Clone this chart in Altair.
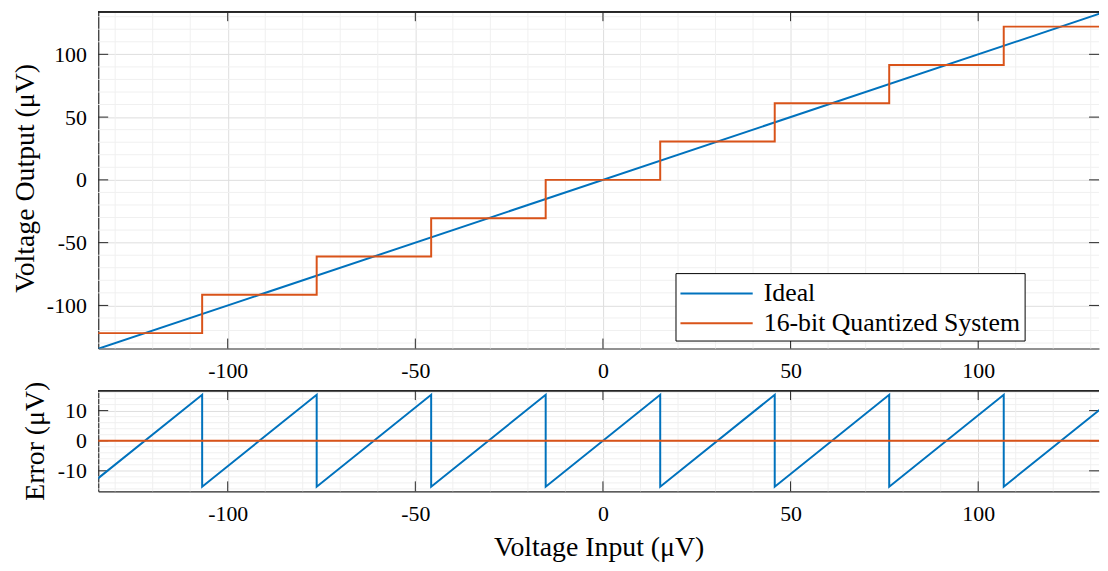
import altair as alt
import pandas as pd

# ---------------- data ----------------
series_names = ["Ideal", "16-bit Quantized System"]
series_colors = ["#0072BD", "#D95319"]

ideal_x = [-135.0, 135.0]
ideal_y = [-135.0, 135.0]

quant_x = [-135.0, -106.81, -76.29, -45.78, -15.26, 15.26, 45.78, 76.29, 106.81, 135.0]
quant_y = [-122.07, -91.55, -61.04, -30.52, 0.0, 30.52, 61.04, 91.55, 122.07, 122.07]

err_x = [-135.0, -106.81, -106.81, -76.29, -76.29, -45.78, -45.78, -15.26, -15.26,
         15.26, 15.26, 45.78, 45.78, 76.29, 76.29, 106.81, 106.81, 135.0]
err_y = [-12.93, 15.26, -15.26, 15.26, -15.26, 15.26, -15.26, 15.26, -15.26,
         15.26, -15.26, 15.26, -15.26, 15.26, -15.26, 15.26, -15.26, 12.93]

zero_x = [-135.0, 135.0]
zero_y = [0.0, 0.0]

minor_x = [-130, -120, -110, -90, -80, -70, -60, -40, -30, -20, -10,
           10, 20, 30, 40, 60, 70, 80, 90, 110, 120, 130]
minor_y_top = minor_x
minor_y_bot = [-16, -14, -12, -8, -6, -4, -2, 2, 4, 6, 8, 12, 14, 16]
major_x = [-100, -50, 0, 50, 100]
major_y_top = [-100, -50, 0, 50, 100]
major_y_bot = [-10, 0, 10]

# ---------------- layout / style ----------------
W = 1009
H_TOP = 340
H_BOT = 102
X_DOM = [-134.5, 132.2]
YT_DOM = [-134.3, 134.3]
YB_DOM = [-16.8, 16.8]
FONT = "Liberation Serif"
AX = "#262626"
MINOR = "#f0f0f0"
MAJOR = "#dedede"
TICK = 10


def x_axis(title=None):
    kw = dict(values=major_x, labelExpr="'' + datum.value",
              ticks=False, grid=True, gridColor=MAJOR, gridWidth=1,
              domain=True, domainColor=AX, domainWidth=1.2,
              labelFont=FONT, labelFontSize=22, labelColor="black", labelPadding=12,
              labelOverlap=False, labelFlush=False)
    if title:
        kw.update(title=title, titleFont=FONT, titleFontSize=28, titleFontWeight="normal",
                  titleColor="black", titlePadding=10)
    else:
        kw.update(title=None)
    return alt.Axis(**kw)


def y_axis(values, title, tx, ty):
    return alt.Axis(values=values, labelExpr="'' + datum.value",
                    ticks=False, grid=True, gridColor=MAJOR, gridWidth=1,
                    domain=True, domainColor=AX, domainWidth=1.2,
                    labelFont=FONT, labelFontSize=22, labelColor="black", labelPadding=12,
                    labelOverlap=False, labelFlush=False,
                    title=title, titleFont=FONT, titleFontSize=28, titleFontWeight="normal",
                    titleColor="black", titleAngle=270, titleAlign="center",
                    titleBaseline="middle", titleX=tx, titleY=ty)


xs = alt.Scale(domain=X_DOM, nice=False, zero=False)
yts = alt.Scale(domain=YT_DOM, nice=False, zero=False)
ybs = alt.Scale(domain=YB_DOM, nice=False, zero=False)

xa_top = x_axis(None)
xa_bot = x_axis("Voltage Input (\u03bcV)")
ya_top = y_axis(major_y_top, "Voltage Output (\u03bcV)", -73, H_TOP / 2 - 2)
ya_bot = y_axis(major_y_bot, "Error (\u03bcV)", -63, H_BOT / 2)

color_scale = alt.Scale(domain=series_names, range=series_colors)
legend = alt.Legend(orient="none", legendX=582, legendY=264, title=None,
                    strokeColor="black", fillColor="white", padding=4,
                    labelFont=FONT, labelFontSize=26, labelColor="black",
                    labelOffset=52, rowPadding=0, symbolType="M-1,0H3.7",
                    symbolSize=961, symbolStrokeWidth=2, labelLimit=0,
                    symbolFillColor="transparent")


def frame_layers(xscale, yscale, xaxis, yaxis, xminor, yminor, xmajor, ymajor, h):
    gx = pd.DataFrame({"x": xminor})
    gy = pd.DataFrame({"y": yminor})
    xt = pd.DataFrame({"x": xmajor})
    yt = pd.DataFrame({"y": ymajor})
    X = alt.X("x:Q", scale=xscale, axis=xaxis)
    Y = alt.Y("y:Q", scale=yscale, axis=yaxis)
    grid_v = alt.Chart(gx).mark_rule(color=MINOR, strokeWidth=1).encode(
        x=X, y=alt.value(0), y2=alt.value(h))
    grid_h = alt.Chart(gy).mark_rule(color=MINOR, strokeWidth=1).encode(
        y=Y, x=alt.value(0), x2=alt.value(W))
    bottom = alt.Chart(xt).mark_rule(color=AX, strokeWidth=1).encode(
        x=X, y=alt.value(h), y2=alt.value(h - TICK))
    top = alt.Chart(xt).mark_rule(color=AX, strokeWidth=1).encode(
        x=X, y=alt.value(0), y2=alt.value(TICK))
    left = alt.Chart(yt).mark_rule(color=AX, strokeWidth=1).encode(
        y=Y, x=alt.value(0), x2=alt.value(TICK))
    right = alt.Chart(yt).mark_rule(color=AX, strokeWidth=1).encode(
        y=Y, x=alt.value(W), x2=alt.value(W - TICK))
    border = alt.Chart(xt).mark_rule(color=AX, strokeWidth=1.2).encode(
        x=alt.value(0), x2=alt.value(W), y=alt.value(0.6))
    return [grid_v, grid_h, bottom, top, left, right, border]


ideal_df = pd.DataFrame({"x": ideal_x, "y": ideal_y, "series": series_names[0]})
quant_df = pd.DataFrame({"x": quant_x, "y": quant_y, "series": series_names[1]})
err_df = pd.DataFrame({"x": err_x, "y": err_y, "i": list(range(len(err_x)))})
zero_df = pd.DataFrame({"x": zero_x, "y": zero_y})

ideal = alt.Chart(ideal_df).mark_line(strokeWidth=2, clip=True).encode(
    x=alt.X("x:Q", scale=xs, axis=xa_top),
    y=alt.Y("y:Q", scale=yts, axis=ya_top),
    color=alt.Color("series:N", scale=color_scale, legend=legend, sort=series_names))
quant = alt.Chart(quant_df).mark_line(strokeWidth=2, interpolate="step-after", clip=True).encode(
    x=alt.X("x:Q", scale=xs, axis=xa_top),
    y=alt.Y("y:Q", scale=yts, axis=ya_top),
    color=alt.Color("series:N", scale=color_scale, legend=legend, sort=series_names))

top = alt.layer(
    *frame_layers(xs, yts, xa_top, ya_top, minor_x, minor_y_top, major_x, major_y_top, H_TOP),
    ideal, quant
).properties(width=W, height=H_TOP)

err = alt.Chart(err_df).mark_line(strokeWidth=2, color=series_colors[0], clip=True).encode(
    x=alt.X("x:Q", scale=xs, axis=xa_bot),
    y=alt.Y("y:Q", scale=ybs, axis=ya_bot),
    order="i:Q")
zero = alt.Chart(zero_df).mark_line(strokeWidth=2, color=series_colors[1], clip=True).encode(
    x=alt.X("x:Q", scale=xs, axis=xa_bot),
    y=alt.Y("y:Q", scale=ybs, axis=ya_bot))

bottom = alt.layer(
    *frame_layers(xs, ybs, xa_bot, ya_bot, minor_x, minor_y_bot, major_x, major_y_bot, H_BOT),
    err, zero
).properties(width=W, height=H_BOT)

chart = alt.vconcat(top, bottom, spacing=42, bounds="flush").resolve_scale(
    x="independent", y="independent"
).properties(
    padding={"left": 4, "top": 0, "right": 0, "bottom": 0},
    background="white"
).configure_view(stroke=None)

chart.save("out.html", embed_options={"renderer": "svg", "actions": False})
